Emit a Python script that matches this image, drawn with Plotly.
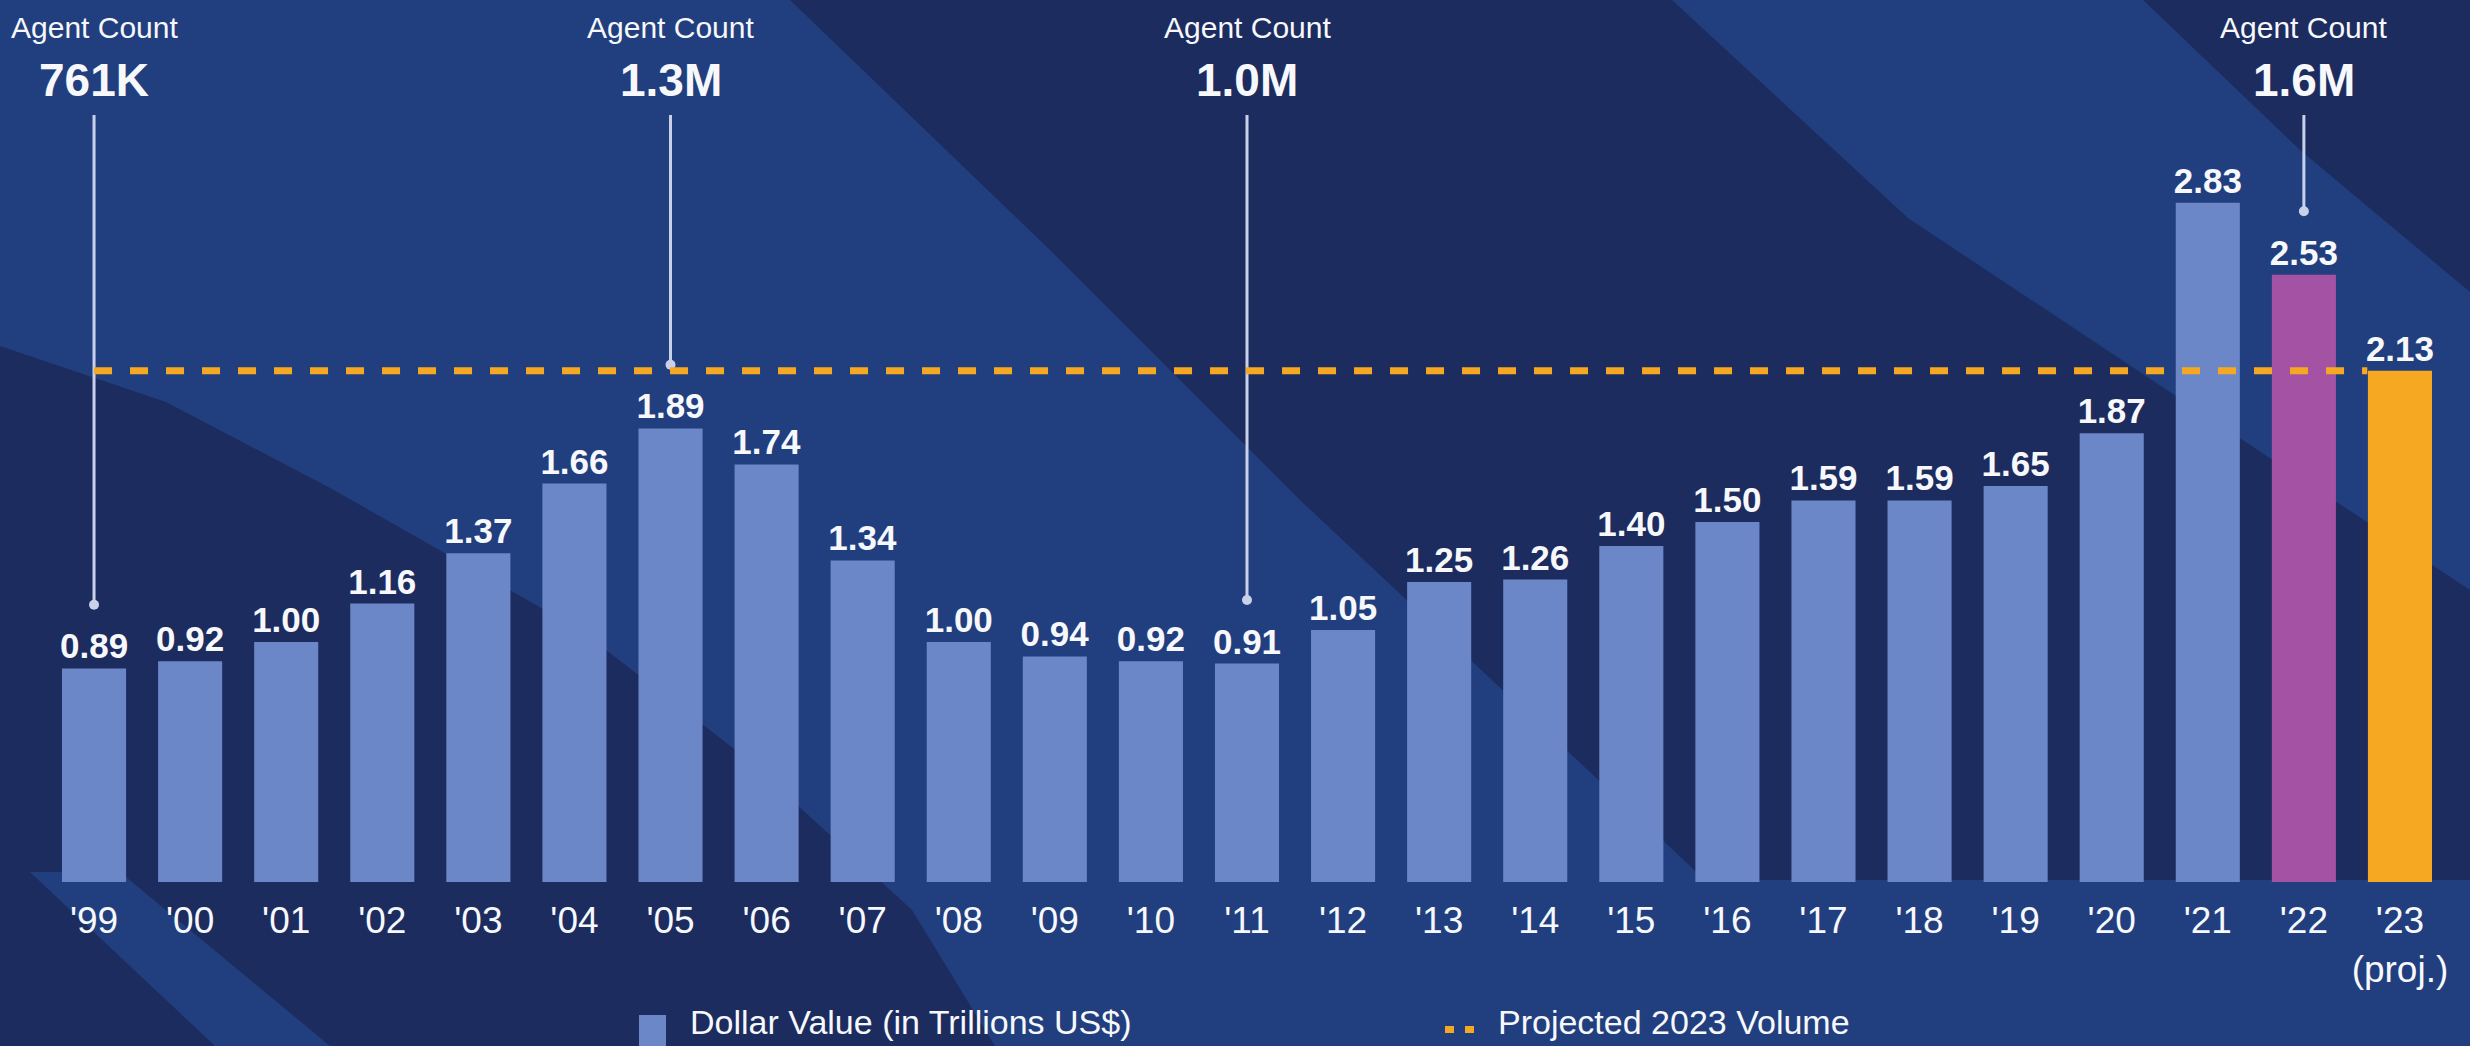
import plotly.graph_objects as go

# ---- data -------------------------------------------------------------
years = ["'99", "'00", "'01", "'02", "'03", "'04", "'05", "'06", "'07", "'08",
         "'09", "'10", "'11", "'12", "'13", "'14", "'15", "'16", "'17", "'18",
         "'19", "'20", "'21", "'22", "'23<br>(proj.)"]
dollar_value = [0.89, 0.92, 1.00, 1.16, 1.37, 1.66, 1.89, 1.74, 1.34, 1.00,
                0.94, 0.92, 0.91, 1.05, 1.25, 1.26, 1.40, 1.50, 1.59, 1.59,
                1.65, 1.87, 2.83, 2.53, 2.13]
projected_2023 = 2.13

agent_years = ["'99", "'05", "'11", "'22"]
agent_counts = ["761K", "1.3M", "1.0M", "1.6M"]

# ---- style ------------------------------------------------------------
W, H = 2470, 1046
ML, MR, MT, MB = 46, 22, 0, 164
PW, PH = W - ML - MR, H - MT - MB
Y_MAX = 3.675

BG = "#213f7e"
DARK = "#1d2c5f"
BAR = "#6b87c7"
PURPLE = "#a453a4"
ORANGE = "#f6a823"
WHITE = "#f7f8fb"
PIN = "#c9d1ea"
FONT = "Liberation Sans, Arial, Helvetica, sans-serif"

bar_colors = [BAR] * (len(years) - 2) + [PURPLE, ORANGE]


def px(xp):
    return (xp - ML) / PW


def py(yp):
    return (MT + PH - yp) / PH


def poly(points, color):
    d = "M " + " L ".join(f"{px(a):.5f},{py(b):.5f}" for a, b in points) + " Z"
    return dict(type="path", xref="paper", yref="paper", path=d,
                fillcolor=color, line=dict(width=0), layer="below")


fig = go.Figure()

fig.add_trace(go.Bar(
    x=years, y=dollar_value,
    marker=dict(color=bar_colors, line=dict(width=0)),
    text=[f"{v:.2f}" for v in dollar_value],
    textposition="outside",
    constraintext="none",
    cliponaxis=False,
    textfont=dict(family=FONT, size=35, color=WHITE, weight="bold"),
    hoverinfo="x+y",
    showlegend=False,
))

# agent-count pins: line from the header down to just above each value label
pin_top = (PH - 115) / PH * Y_MAX
pin_y = []
shapes = []
for yr in agent_years:
    i = years.index(yr)
    tip = dollar_value[i] + 0.265
    pin_y.append(tip)
    shapes.append(dict(type="line", xref="x", yref="y", x0=i, x1=i,
                       y0=pin_top, y1=tip, line=dict(color=PIN, width=3),
                       layer="above"))

fig.add_trace(go.Scatter(
    x=agent_years, y=pin_y, mode="markers",
    marker=dict(color=PIN, size=10), hoverinfo="skip", showlegend=False,
    cliponaxis=False,
))

# projected 2023 volume reference line
shapes.append(dict(type="line", xref="x", yref="y",
                   x0=0, x1=len(years) - 1 - 0.34,
                   y0=projected_2023, y1=projected_2023,
                   line=dict(color=ORANGE, width=7, dash="18px,18px"),
                   layer="above"))

# background brush strokes
shapes += [
    poly([(790, 0), (1672, 0), (1908, 218), (2185, 402), (2470, 590),
          (2470, 880), (1705, 880), (1300, 500), (1050, 250)], DARK),
    poly([(2143, 0), (2470, 0), (2470, 292), (2300, 150)], DARK),
    poly([(0, 346), (166, 402), (332, 489), (580, 630), (746, 758),
          (912, 910), (995, 1046), (0, 1046)], DARK),
    poly([(30, 872), (120, 872), (330, 1046), (215, 1046)], BG),
]

# legend
shapes += [
    dict(type="rect", xref="paper", yref="paper", x0=px(639), x1=px(666),
         y0=py(1046), y1=py(1015), fillcolor=BAR, line=dict(width=0)),
    dict(type="rect", xref="paper", yref="paper", x0=px(1445), x1=px(1454),
         y0=py(1033), y1=py(1026), fillcolor=ORANGE, line=dict(width=0)),
    dict(type="rect", xref="paper", yref="paper", x0=px(1465), x1=px(1474),
         y0=py(1033), y1=py(1026), fillcolor=ORANGE, line=dict(width=0)),
]

annotations = []
for yr, cnt in zip(agent_years, agent_counts):
    annotations.append(dict(
        x=yr, y=(PH - 27) / PH * Y_MAX, xref="x", yref="y", text="Agent Count",
        showarrow=False, yanchor="middle",
        font=dict(family=FONT, size=30, color=WHITE)))
    annotations.append(dict(
        x=yr, y=(PH - 80) / PH * Y_MAX, xref="x", yref="y", text=cnt,
        showarrow=False, yanchor="middle",
        font=dict(family=FONT, size=46, color=WHITE, weight="bold")))

annotations += [
    dict(x=px(688), y=py(1022), xref="paper", yref="paper", xanchor="left",
         yanchor="middle", showarrow=False,
         text="Dollar Value (in Trillions US$)",
         font=dict(family=FONT, size=34, color=WHITE)),
    dict(x=px(1496), y=py(1022), xref="paper", yref="paper", xanchor="left",
         yanchor="middle", showarrow=False, text="Projected 2023 Volume",
         font=dict(family=FONT, size=34, color=WHITE)),
]

fig.update_layout(
    width=W, height=H,
    margin=dict(l=ML, r=MR, t=MT, b=MB, pad=0),
    paper_bgcolor=BG, plot_bgcolor="rgba(0,0,0,0)",
    bargap=0.333,
    shapes=shapes,
    annotations=annotations,
    xaxis=dict(type="category", range=[-0.5, len(years) - 0.5],
               showgrid=False, zeroline=False, showline=False,
               ticks="outside", ticklen=6, tickcolor="rgba(0,0,0,0)",
               tickfont=dict(family=FONT, size=37, color=WHITE),
               fixedrange=True),
    yaxis=dict(range=[0, Y_MAX], visible=False, fixedrange=True),
    font=dict(family=FONT, color=WHITE),
)

fig.write_html("out.html")
